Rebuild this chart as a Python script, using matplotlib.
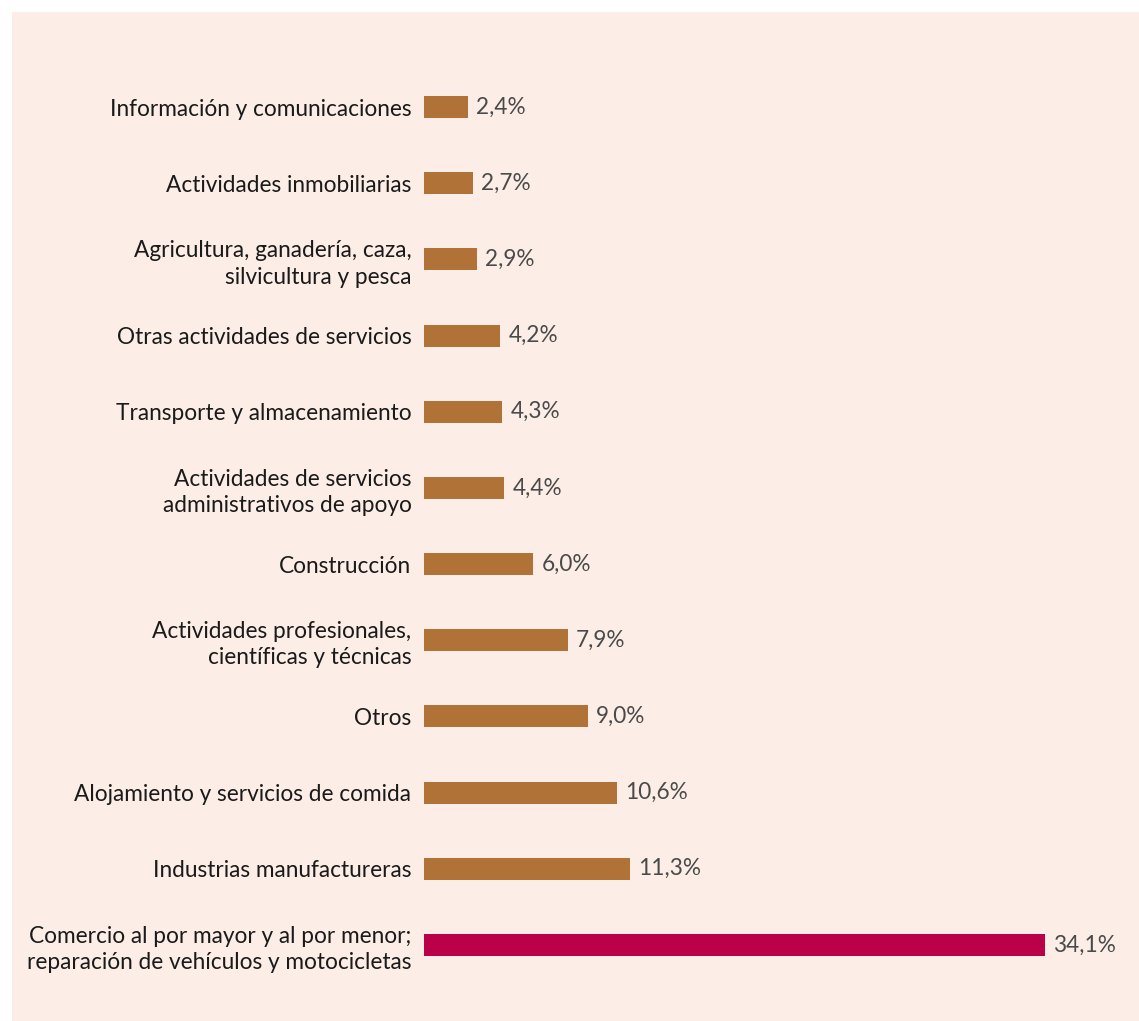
import matplotlib.pyplot as plt
from matplotlib.patches import Rectangle

plt.rcParams['font.family'] = ['Lato', 'DejaVu Sans']

# categorías y porcentajes (de arriba hacia abajo)
categorias = [
    "Información y comunicaciones",
    "Actividades inmobiliarias",
    "Agricultura, ganadería, caza,\nsilvicultura y pesca",
    "Otras actividades de servicios",
    "Transporte y almacenamiento",
    "Actividades de servicios\nadministrativos de apoyo",
    "Construcción",
    "Actividades profesionales,\ncientíficas y técnicas",
    "Otros",
    "Alojamiento y servicios de comida",
    "Industrias manufactureras",
    "Comercio al por mayor y al por menor;\nreparación de vehículos y motocicletas",
]
valores = [2.4, 2.7, 2.9, 4.2, 4.3, 4.4, 6.0, 7.9, 9.0, 10.6, 11.3, 34.1]

fondo = "#FCEEE6"
cafe = "#B07236"
rojo = "#BA0048"
colores = [cafe] * (len(valores) - 1) + [rojo]

W, H = 1139, 1021
fig = plt.figure(figsize=(W / 100, H / 100), dpi=100)
fig.patch.set_facecolor("white")
# panel de fondo
fig.patches.append(Rectangle((12 / W, 0), 1 - 12 / W, 1 - 12 / H,
                             transform=fig.transFigure, facecolor=fondo,
                             edgecolor="none", zorder=-5))

# ejes en pixeles
izq, der = 424, 1130
arriba, abajo = 69, 983
ax = fig.add_axes([izq / W, 1 - abajo / H, (der - izq) / W, (abajo - arriba) / H])
ax.set_facecolor("none")
ax.set_zorder(2)

y = list(range(len(valores)))
ax.barh(y, valores, height=0.29, color=colores)
ax.set_xlim(0, (der - izq) / 18.2)
ax.set_ylim(len(valores) - 0.5, -0.5)

ax.set_yticks(y)
ax.set_yticklabels(categorias, fontsize=16.3, color="#1a1a1a", linespacing=1.3)
ax.tick_params(axis="y", length=0, pad=9)
ax.set_xticks([])
for s in ax.spines.values():
    s.set_visible(False)

for yi, v in zip(y, valores):
    ax.text(v + 0.45, yi, f"{v:.1f}%".replace(".", ","), va="center", ha="left",
            fontsize=16.3, color="#4a4a4a")

plt.savefig("out.png", dpi=100, facecolor=fig.get_facecolor())
